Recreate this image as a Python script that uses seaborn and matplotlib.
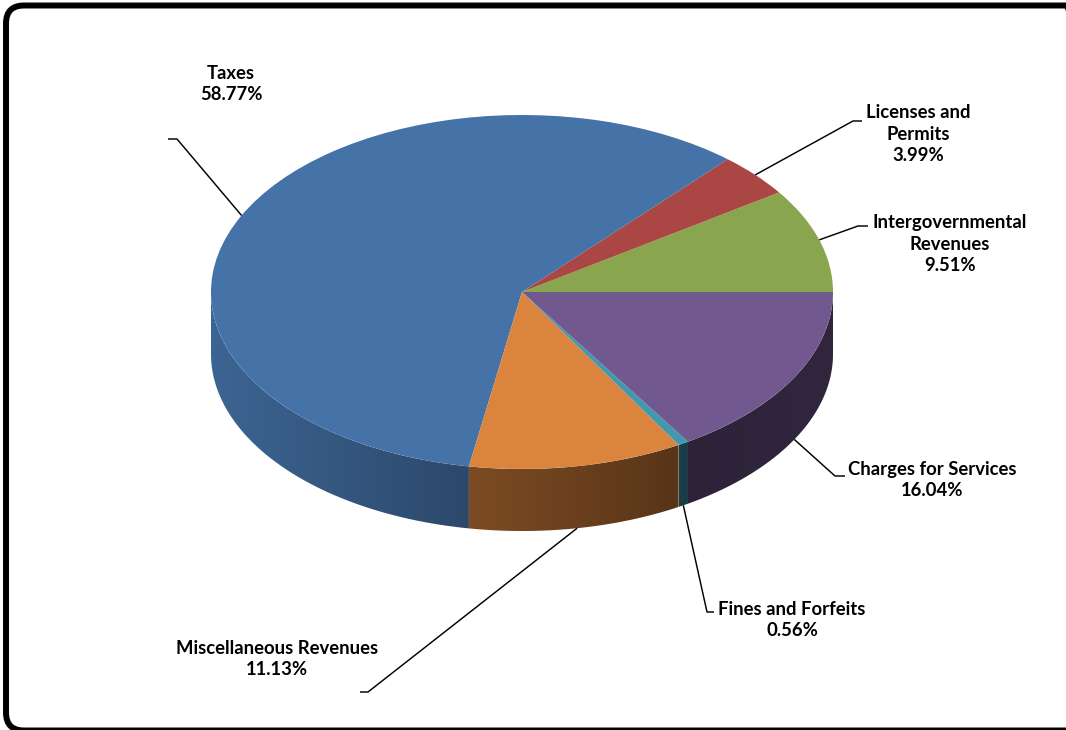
import numpy as np
import matplotlib
matplotlib.use("Agg")
import matplotlib.pyplot as plt
import seaborn as sns
from matplotlib.patches import FancyBboxPatch, Polygon
from matplotlib.colors import to_rgb

# Revenue sources, listed counter-clockwise from the 3 o'clock position
categories = ["Intergovernmental\nRevenues", "Licenses and\nPermits", "Taxes",
              "Miscellaneous Revenues", "Fines and Forfeits", "Charges for Services"]
shares = [9.51, 3.99, 58.77, 11.13, 0.56, 16.04]

colors = ["#89A54E", "#AA4643", "#4572A7", "#DB843D", "#4198AF", "#71588F"]
# side-wall darkening (left end, right end) for each slice
wall_shade = [(0.55, 0.55), (0.55, 0.55), (0.88, 0.64), (0.57, 0.40), (0.40, 0.40), (0.40, 0.43)]

# label block centres and leader-line elbows/ends (pixels)
label_pos = [(950, 244), (918, 134), (231, 84), (277, 659), (792, 620), (932, 480)]
leader_elbow = [(858, 226), (853, 121), (177, 139), (368, 692), (707, 612), (835, 476)]
leader_end = [(868, 226), (862, 121), (168, 139), (360, 692), (714, 612), (845, 476)]

sns.set_theme(style="white")
plt.rcParams["font.family"] = ["Lato", "DejaVu Sans"]

W, H = 1066, 730
fig = plt.figure(figsize=(W / 100, H / 100), dpi=100)
fig.patch.set_facecolor("white")

# pie geometry in pixels: centre, horizontal/vertical semi-axes, wall depth
cx, cy, a, b, depth = 522, 292, 311, 177, 62
d = depth / b

ax = fig.add_axes([0, 0, 1, 1])
wedges, _ = ax.pie(shares, colors=colors, startangle=0, counterclock=True,
                   radius=1, wedgeprops=dict(linewidth=0), frame=True)
ax.set_xlim(-cx / a, (W - cx) / a)
ax.set_ylim(-(H - cy) / b, cy / b)
ax.set_aspect("auto")
ax.axis("off")
for w in wedges:
    w.set_zorder(3)

# front side walls: a horizontal shading gradient clipped to each wall outline
for w, col, (s0, s1) in zip(wedges, colors, wall_shade):
    lo, hi = max(w.theta1, 180), min(w.theta2, 360)
    if hi <= lo:
        continue
    th = np.radians(np.linspace(lo, hi, 200))
    xs, ys = np.cos(th), np.sin(th)
    outline = np.vstack([np.column_stack([xs, ys]),
                         np.column_stack([xs[::-1], ys[::-1] - d])])
    poly = Polygon(outline, closed=True, facecolor="none", edgecolor="none")
    ax.add_patch(poly)
    x_lo, x_hi = xs.min(), xs.max()
    base = np.array(to_rgb(col))
    t = np.linspace(0, 1, 256)
    grad = np.clip(base[None, :] * (s0 + (s1 - s0) * t)[:, None], 0, 1)
    img = ax.imshow(grad[None, :, :], extent=(x_lo, x_hi, ys.min() - d - 0.02, ys.max() + 0.02),
                    aspect="auto", interpolation="bilinear", zorder=2, origin="lower")
    img.set_clip_path(poly)

ax.set_xlim(-cx / a, (W - cx) / a)
ax.set_ylim(-(H - cy) / b, cy / b)

# overlay in pixel coordinates for labels and leader lines
ov = fig.add_axes([0, 0, 1, 1], facecolor="none")
ov.set_xlim(0, W)
ov.set_ylim(H, 0)
ov.axis("off")

to_px = ax.transData + ov.transData.inverted()
for w, cat, val, lp, el, en in zip(wedges, categories, shares, label_pos, leader_elbow, leader_end):
    mid = np.radians((w.theta1 + w.theta2) / 2)
    px, py = np.cos(mid), np.sin(mid)
    if 180 < np.degrees(mid) < 360:
        py -= d
    sx, sy = to_px.transform((px, py))
    ov.plot([sx, el[0], en[0]], [sy, el[1], en[1]], color="black", lw=1.05,
            solid_capstyle="butt", zorder=5)
    ov.text(lp[0], lp[1], f"{cat}\n{val:.2f}%", ha="center", va="center",
            fontsize=13.3, fontweight="bold", color="black", linespacing=1.35, zorder=6)

# rounded border, in display pixels (origin bottom-left); runs off the right edge
frame = FancyBboxPatch((6, -0.5), 1078, 725, boxstyle="round,pad=0,rounding_size=18",
                       facecolor="none", edgecolor="black", linewidth=4.3,
                       transform=None, clip_on=False)
fig.patches.append(frame)

fig.savefig("out.png", dpi=100, facecolor="white")
